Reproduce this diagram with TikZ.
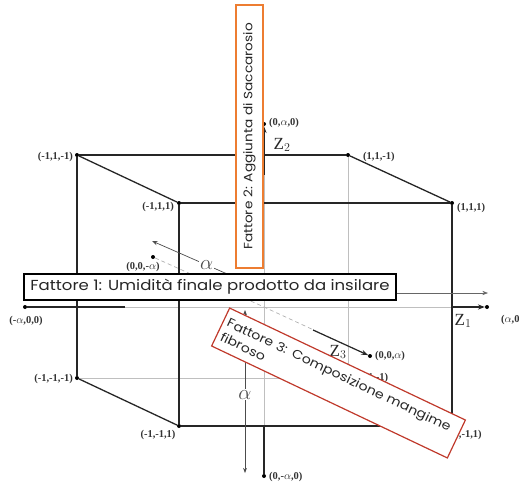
\documentclass[tikz,border=0pt]{standalone}
\usepackage{fontspec}
\setmainfont{Liberation Serif}
\newfontfamily\boxfont[FakeStretch=1.14]{Poppins}
\usetikzlibrary{arrows.meta, calc, positioning}
\definecolor{boxorange}{RGB}{237,125,49}
\definecolor{boxred}{RGB}{192,57,43}

\begin{document}
\begin{tikzpicture}[
    x=1pt, y=-1pt,
    edge/.style={line width=1.3pt, black!85},
    hidden/.style={line width=0.6pt, black!25},
    zaxis/.style={line width=0.7pt, black!30, dash pattern=on 4pt off 3pt},
    axisarrow/.style={-{Stealth[length=2.4mm]}, line width=1.2pt, black!85},
    dimarrow/.style={-{Stealth[length=2mm]}, line width=0.7pt, black!70},
    dimboth/.style={{Stealth[length=1.8mm]}-{Stealth[length=1.8mm]}, line width=0.7pt, black!70},
    thinarrow/.style={-{Stealth[length=2mm]}, line width=0.6pt, black!60},
    dot/.style={circle, fill=black, inner sep=0pt, minimum size=4pt},
    vlabel/.style={font=\fontsize{10.5}{11}\selectfont\bfseries, text=black!80, inner sep=1pt},
    zlabel/.style={font=\fontsize{17}{17}\selectfont, text=black!85, inner sep=0pt},
    alphalabel/.style={font=\fontsize{22}{22}\selectfont, text=black!70, fill=white, inner sep=1pt},
    factor/.style={fill=white, line width=1.2pt, text=black!85, inner sep=3pt}
]
\useasboundingbox (0,0) rectangle (519,485);

% cube vertices
\node[dot] (bnw) at (77,155) {};
\node[dot] (bne) at (348,155) {};
\node[dot] (bsw) at (77,378) {};
\coordinate (bse) at (348,378);
\node[dot] (fnw) at (179,203) {};
\node[dot] (fne) at (452,203) {};
\node[dot] (fsw) at (179,426) {};
\coordinate (fse) at (452,426);

% axis points
\coordinate (O) at (264,307);
\node[dot] (xm) at (25,307) {};
\node[dot] (xp) at (487,307) {};
\node[dot] (ym) at (264,476) {};
\node[dot] (yp) at (264,124) {};
\node[dot] (zm) at (153,257) {};
\node[dot] (zp) at (370,356) {};

% hidden edges and axes
\draw[hidden] (bne) -- (bse) -- (bsw);
\draw[hidden] (bse) -- (fse);
\coordinate (x1) at (125,307);
\coordinate (x2) at (452,307);
\draw[hidden] (x1) -- (x2);
\coordinate (y1) at (264,175);
\coordinate (y2) at (264,426);
\draw[hidden] (y1) -- (y2);
\draw[zaxis] (zm) -- (O) -- (zp);

% visible edges
\draw[edge] (bsw) -- (bnw) -- (bne);
\draw[edge] (bnw) -- (fnw);
\draw[edge] (bne) -- (fne);
\draw[edge] (bsw) -- (fsw);
\draw[edge] (fnw) -- (fne) -- (fse) -- (fsw) -- (fnw);

% axes
\draw[edge] (xm) -- (x1);
\draw[axisarrow] (x2) -- (xp);
\draw[axisarrow] (y1) -- (yp);
\draw[edge] (y2) -- (ym);
\coordinate (z1) at (313,330);
\draw[axisarrow] (z1) -- (zp);

% dimension arrows
\coordinate (da) at (282,298);
\coordinate (db) at (152,241);
\draw[dimarrow] (da) -- node[alphalabel, pos=0.58] {$\alpha$} (db);
\coordinate (dc) at (245,310);
\coordinate (dd) at (245,473);
\draw[dimboth] (dc) -- node[alphalabel, pos=0.52] {$\alpha$} (dd);

% labels
\node[vlabel, anchor=east] (lbnw) at (74,157) {(-1,1,-1)};
\node[vlabel, anchor=west] (lbne) at (362,157) {(1,1,-1)};
\node[vlabel, anchor=east] (lfnw) at (175,207) {(-1,1,1)};
\node[vlabel, anchor=west] (lfne) at (456,208) {(1,1,1)};
\node[vlabel, anchor=east] (lbsw) at (74,379) {(-1,-1,-1)};
\node[vlabel, anchor=north] (lfsw) at (158,429) {(-1,-1,1)};
\node[vlabel, anchor=west] (lbse) at (352,378) {(1,-1,-1)};
\node[vlabel, anchor=west] (lfse) at (449,435) {(1,-1,1)};
\node[vlabel, anchor=west] (lyp) at (268,123) {(0,$\alpha$,0)};
\node[vlabel, anchor=west] (lym) at (268,477) {(0,-$\alpha$,0)};
\node[vlabel, anchor=west] (lzp) at (374,356) {(0,0,$\alpha$)};
\node[vlabel] (lzm) at (143,267) {(0,0,-$\alpha$)};
\node[vlabel] (lxm) at (26,321) {(-$\alpha$,0,0)};
\node[vlabel, anchor=west] (lxp) at (500,320) {($\alpha$,0,0)};
\node[zlabel] (Z1) at (463,321) {Z$_1$};
\node[zlabel] (Z2) at (282,145) {Z$_2$};
\node[zlabel] (Z3) at (338,352) {Z$_3$};

% factor boxes
\node[factor, draw=black, minimum width=372pt, minimum height=26pt,
    font=\boxfont\fontsize{14.5}{16}\selectfont] (f1) at (210,287)
    {Fattore 1: Umidità finale prodotto da insilare};
\coordinate (f1tip) at (488,293);
\draw[thinarrow] ([yshift=-6pt]f1.east) -- (f1tip);
\node[factor, draw=boxorange, rotate=90, minimum width=263pt, minimum height=27pt,
    font=\boxfont\fontsize{12}{14}\selectfont] (f2) at (249.5,136.5)
    {Fattore 2: Aggiunta di Saccarosio};
\node[factor, draw=boxred, rotate=-25.4, minimum width=261pt, minimum height=42pt,
    text width=252pt, align=left, inner sep=3pt,
    font=\boxfont\fontsize{12.4}{16}\selectfont] (f3) at (338.5,383)
    {Fattore 3: Composizione mangime\\fibroso};
\end{tikzpicture}
\end{document}
